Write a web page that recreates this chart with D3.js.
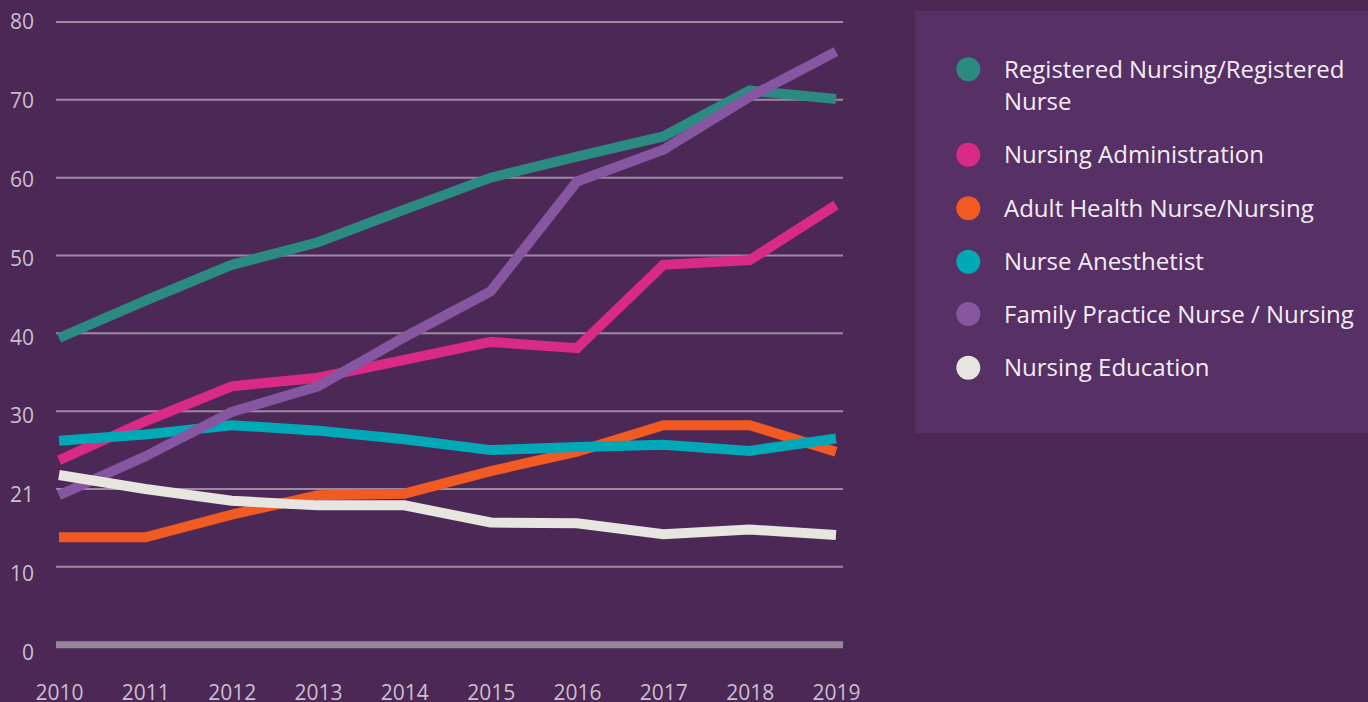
<!DOCTYPE html>
<html>
<head>
<meta charset="utf-8">
<script src="https://cdn.jsdelivr.net/npm/d3@7"></script>
<style>
  html, body { margin: 0; padding: 0; background: #4b2856; }
  svg { display: block; font-family: "Open Sans", sans-serif; }
</style>
</head>
<body>
<svg id="chart" width="1368" height="702"></svg>
<script>
// ---- data -------------------------------------------------------------
var years = [2010, 2011, 2012, 2013, 2014, 2015, 2016, 2017, 2018, 2019];
var yTicks = [0, 10, 20, 30, 40, 50, 60, 70, 80];
var yTickLabels = ["0", "10", "21", "30", "40", "50", "60", "70", "80"];

var seriesNames = [
  "Registered Nursing/Registered Nurse",
  "Nursing Administration",
  "Adult Health Nurse/Nursing",
  "Nurse Anesthetist",
  "Family Practice Nurse / Nursing",
  "Nursing Education"
];
var seriesColors = ["#2b8a82", "#d92a86", "#f15a22", "#00a9b8", "#8756a0", "#e8e5e1"];

var registeredNursing  = [39.4, 44.2, 48.8, 51.7, 55.9, 60.0, 62.7, 65.3, 71.2, 70.1];
var nursingAdmin       = [23.7, 28.7, 33.2, 34.3, 36.6, 38.9, 38.1, 48.8, 49.4, 56.5];
var adultHealth        = [13.8, 13.8, 16.7, 19.2, 19.4, 22.3, 24.8, 28.2, 28.2, 24.8];
var nurseAnesthetist   = [26.2, 27.0, 28.2, 27.5, 26.4, 25.0, 25.4, 25.7, 24.9, 26.5];
var familyPractice     = [19.2, 24.2, 29.9, 33.2, 39.5, 45.4, 59.5, 63.6, 70.4, 76.2];
var nursingEducation   = [21.8, 20.0, 18.5, 17.9, 17.9, 15.7, 15.6, 14.2, 14.8, 14.1];

var seriesValues = [registeredNursing, nursingAdmin, adultHealth, nurseAnesthetist, familyPractice, nursingEducation];

// ---- layout -----------------------------------------------------------
var svg = d3.select("#chart");

var x = d3.scaleLinear().domain([2010, 2019]).range([59, 836]);
var y = d3.scaleLinear().domain([0, 80]).range([644.7, 22]);
// the tick labels in the original sit on a slightly wider spread than the gridlines
var yLabel = d3.scaleLinear().domain([0, 80]).range([652, 21]);

// gridlines
var grid = svg.append("g").attr("class", "grid");
grid.selectAll("line")
  .data(yTicks)
  .enter()
  .append("line")
  .attr("x1", 56)
  .attr("x2", 843)
  .attr("y1", function (d) { return y(d); })
  .attr("y2", function (d) { return y(d); })
  .attr("stroke", d => d === 0 ? "#978599" : "#9c8aa3")
  .attr("stroke-width", d => d === 0 ? 7 : 2);

// y axis labels
var yAxis = d3.axisLeft(yLabel)
  .tickValues(yTicks)
  .tickFormat(function (d, i) { return yTickLabels[i]; })
  .tickSize(0)
  .tickPadding(0);
var yg = svg.append("g")
  .attr("transform", "translate(34,0)")
  .call(yAxis);
yg.select(".domain").remove();
yg.selectAll("text")
  .attr("fill", "#cbbfce")
  .attr("font-size", 21)
  .attr("font-family", "Open Sans")
  .attr("dy", "0.36em");

// x axis labels
var xAxis = d3.axisBottom(x)
  .tickValues(years)
  .tickFormat(d3.format("d"))
  .tickSize(0)
  .tickPadding(0);
var xg = svg.append("g")
  .attr("transform", "translate(0,680)")
  .call(xAxis);
xg.select(".domain").remove();
xg.selectAll("text")
  .attr("fill", "#cbbfce")
  .attr("font-size", 21)
  .attr("font-family", "Open Sans")
  .attr("dy", "0.95em");

// lines
var line = d3.line()
  .x(function (d, i) { return x(years[i]); })
  .y(function (d) { return y(d); });

svg.append("g")
  .selectAll("path")
  .data(seriesValues)
  .enter()
  .append("path")
  .attr("d", line)
  .attr("fill", "none")
  .attr("stroke", function (d, i) { return seriesColors[i]; })
  .attr("stroke-width", 10)
  .attr("stroke-linejoin", "miter");

// ---- legend -----------------------------------------------------------
svg.append("rect")
  .attr("x", 915)
  .attr("y", 11)
  .attr("width", 460)
  .attr("height", 422)
  .attr("fill", "#573066");

var legendY = [69.3, 154.7, 208.3, 261.7, 314, 367.7];
var legend = svg.append("g").attr("class", "legend");
var items = legend.selectAll("g")
  .data(seriesNames)
  .enter()
  .append("g")
  .attr("transform", function (d, i) { return "translate(0," + legendY[i] + ")"; });

items.append("circle")
  .attr("cx", 968.3)
  .attr("cy", 0)
  .attr("r", 12)
  .attr("fill", function (d, i) { return seriesColors[i]; });

items.append("text")
  .attr("x", 1004)
  .attr("y", 0)
  .attr("fill", "#f3eef5")
  .attr("font-size", 24)
  .attr("font-family", "Open Sans")
  .each(function (d, i) {
    var t = d3.select(this);
    var lines = i === 0 ? ["Registered Nursing/Registered", "Nurse"] : [d];
    lines.forEach(function (l, j) {
      t.append("tspan")
        .attr("x", 1004)
        .attr("dy", j === 0 ? "0.36em" : 32)
        .text(l);
    });
  });
</script>
</body>
</html>
